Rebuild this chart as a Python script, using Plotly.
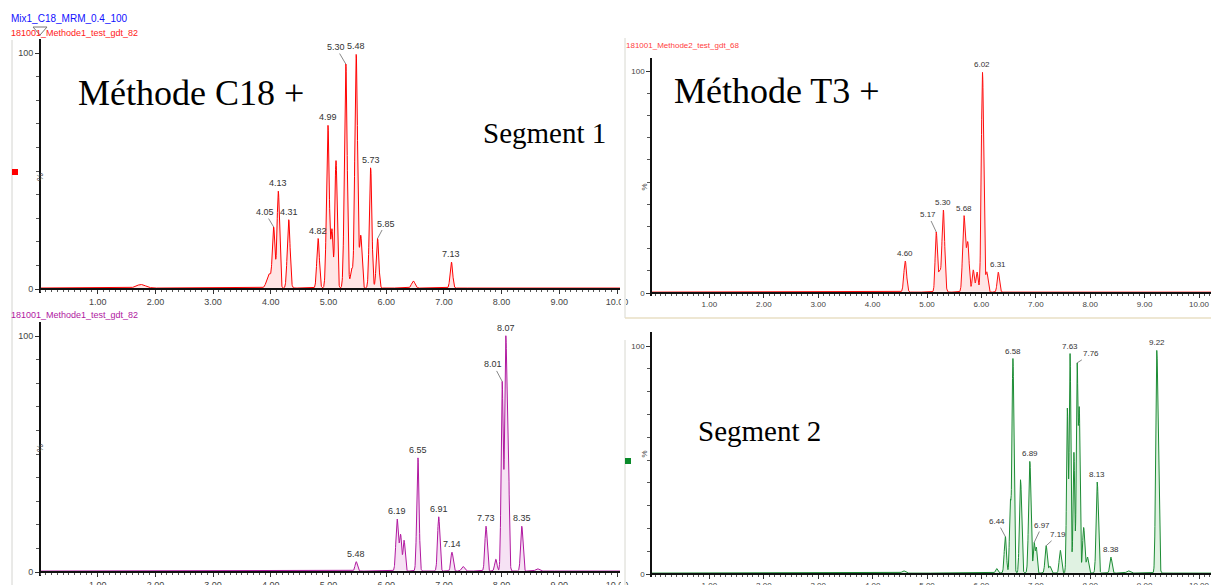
import numpy as np
import plotly.graph_objects as go

W, H = 1211, 585

# ---- data (retention time in min, relative height in %) ----
# top left : C18 method, segment 1
tl_rt = [1.75, 3.97, 4.05, 4.13, 4.31, 4.82, 4.99, 5.06, 5.13, 5.30, 5.40, 5.48, 5.56, 5.73, 5.85, 6.47, 7.13]
tl_height = [1.5, 6, 25, 41, 29, 21, 69, 24, 54, 95, 8, 99, 22, 51, 21, 3, 11]
tl_width = [0.08, 0.04, 0.022, 0.022, 0.024, 0.022, 0.024, 0.018, 0.02, 0.024, 0.02, 0.024, 0.02, 0.022, 0.022, 0.03, 0.022]
tl_labels = [4.05, 4.13, 4.31, 4.82, 4.99, 5.30, 5.48, 5.73, 5.85, 7.13]

# top right : T3 method, segment 1
tr_rt = [4.60, 5.17, 5.23, 5.30, 5.68, 5.75, 5.85, 5.92, 6.02, 6.10, 6.31]
tr_height = [14, 27, 9, 37, 34, 22, 10, 9, 99, 9, 9]
tr_width = [0.025, 0.02, 0.02, 0.025, 0.025, 0.025, 0.02, 0.02, 0.022, 0.02, 0.02]
tr_labels = [4.60, 5.17, 5.30, 5.68, 6.02, 6.31]

# bottom left : C18 method, segment 2
bl_rt = [5.48, 6.19, 6.25, 6.31, 6.55, 6.91, 7.14, 7.33, 7.73, 7.90, 8.01, 8.07, 8.11, 8.35, 8.62]
bl_height = [4, 22, 15, 13, 48, 23, 8, 2, 19, 5, 80, 93, 65, 19, 1]
bl_width = [0.02, 0.022, 0.018, 0.018, 0.02, 0.02, 0.02, 0.025, 0.02, 0.02, 0.018, 0.018, 0.018, 0.02, 0.03]
bl_labels = [5.48, 6.19, 6.55, 6.91, 7.14, 7.73, 8.01, 8.07, 8.35]

# bottom right : T3 method, segment 2
br_rt = [4.57, 6.28, 6.44, 6.53, 6.58, 6.72, 6.89, 6.97, 7.01, 7.19, 7.26, 7.45, 7.58, 7.63, 7.70,
         7.76, 7.80, 7.88, 7.95, 8.13, 8.38, 8.70, 9.22, 9.25]
br_height = [1, 2, 16, 30, 94, 41, 49, 13, 11, 12, 3, 10, 72, 96, 53, 90, 70, 20, 7, 40, 7, 1, 85, 42]
br_width = [0.03, 0.02, 0.02, 0.015, 0.018, 0.02, 0.022, 0.015, 0.015, 0.02, 0.02, 0.02, 0.015, 0.015,
            0.015, 0.015, 0.015, 0.02, 0.02, 0.02, 0.02, 0.03, 0.018, 0.018]
br_labels = [6.44, 6.58, 6.89, 6.97, 7.19, 7.63, 7.76, 8.13, 8.38, 9.22]

x_ticks = [1, 2, 3, 4, 5, 6, 7, 8, 9, 10]
x_ticktext = ["1.00", "2.00", "3.00", "4.00", "5.00", "6.00", "7.00", "8.00", "9.00", "10.00"]

t = np.linspace(-0.1, 10.4, 4000)


def chrom(rt, h, w):
    y = np.full_like(t, 0.4)
    for a, b, c in zip(rt, h, w):
        y += b * np.exp(-0.5 * ((t - a) / c) ** 2)
    return y


def fx(p):
    return p / W


def fy(p):
    return 1 - p / H


# panel geometry in pixels: y-axis x, time-0 x, px per min, right edge, y of 0 %, y of 100 %
panels = [
    dict(ax=40, t0=40, ppm=57.7, right=620, y0=289, y100=53, rt=tl_rt, h=tl_height, w=tl_width,
         labels=tl_labels, line="#ff0000", fill="rgba(255,150,150,0.25)", fs=9, ylw=2),
    dict(ax=651, t0=655, ppm=54.4, right=1211, y0=293, y100=71, rt=tr_rt, h=tr_height, w=tr_width,
         labels=tr_labels, line="#ff1010", fill="rgba(255,150,150,0.25)", fs=8, ylw=1.5),
    dict(ax=40, t0=40, ppm=57.7, right=620, y0=572, y100=336, rt=bl_rt, h=bl_height, w=bl_width,
         labels=bl_labels, line="#b0189f", fill="rgba(220,140,210,0.25)", fs=9, ylw=2),
    dict(ax=651, t0=655, ppm=54.4, right=1211, y0=574, y100=346, rt=br_rt, h=br_height, w=br_width,
         labels=br_labels, line="#1c8c34", fill="rgba(130,205,140,0.25)", fs=8, ylw=1.5),
]

# labels with a small leader line: (panel, time) -> pixel offset of text
leaders = {
    (0, 4.05): (-9, -10), (0, 5.30): (-10, -12), (0, 5.85): (8, -10),
    (1, 5.17): (-8, -12),
    (2, 8.01): (-9, -12),
    (3, 6.44): (-8, -10), (3, 6.97): (8, -12), (3, 7.19): (12, -6), (3, 7.76): (14, -4),
}

fig = go.Figure()
annotations = []
layout = {}

for i, p in enumerate(panels):
    n = "" if i == 0 else str(i + 1)
    ppp = (p["y0"] - p["y100"]) / 100
    y = chrom(p["rt"], p["h"], p["w"])
    fig.add_trace(go.Scatter(x=t, y=y, mode="lines", xaxis="x" + n, yaxis="y" + n,
                             line=dict(color=p["line"], width=1), fill="tozeroy",
                             fillcolor=p["fill"], hoverinfo="skip", showlegend=False))

    xr = [(p["ax"] - p["t0"]) / p["ppm"], (p["right"] - p["t0"]) / p["ppm"]]
    layout["xaxis" + n] = dict(
        domain=[fx(p["ax"]), fx(p["right"])], range=xr, anchor="free", position=fy(p["y0"]),
        automargin=False,
        showline=True, linecolor="#111", linewidth=1.5, showgrid=False, zeroline=False,
        tickvals=x_ticks, ticktext=x_ticktext, ticks="outside", ticklen=4, tickcolor="#333",
        minor=dict(tickmode="linear", tick0=0, dtick=0.1, ticks="outside", ticklen=2, tickcolor="#555"),
        tickfont=dict(family="Arial, Liberation Sans", size=p["fs"], color="#444"),
    )
    layout["yaxis" + n] = dict(
        domain=[fy(p["y0"] + 1.5 * ppp), fy(p["y100"] - 6 * ppp)], range=[-1.5, 106],
        anchor="free", position=fx(p["ax"]), automargin=False,
        showline=True, linecolor="#111", linewidth=p["ylw"], showgrid=False, zeroline=False,
        tickvals=[0, 100], ticktext=["0", "100"], ticks="outside", ticklen=4, tickcolor="#333",
        minor=dict(tickmode="linear", tick0=0, dtick=10, ticks="outside", ticklen=3, tickcolor="#555"),
        tickfont=dict(family="Arial, Liberation Sans", size=p["fs"], color="#444"),
    )
    # "%" on the intensity axis
    annotations.append(dict(x=fx(p["ax"] - 7), y=fy((p["y0"] + p["y100"]) / 2), xref="paper", yref="paper",
                            text="%", textangle=-90, showarrow=False,
                            font=dict(family="Arial", size=p["fs"], color="#444")))
    # peak labels
    for lt in p["labels"]:
        m = np.abs(t - lt) < 0.03
        top = float(y[m].max())
        lab = f"{lt:.2f}"
        if (i, lt) in leaders:
            dx, dy = leaders[(i, lt)]
            annotations.append(dict(x=lt, y=top, xref="x" + n, yref="y" + n, text=lab, showarrow=True,
                                    ax=dx, ay=dy - 5, arrowhead=0, arrowwidth=0.7, arrowcolor="#555",
                                    standoff=0, font=dict(family="Arial", size=p["fs"], color="#333")))
        else:
            annotations.append(dict(x=lt, y=top, xref="x" + n, yref="y" + n, text=lab, showarrow=False,
                                    yanchor="bottom", yshift=1,
                                    font=dict(family="Arial", size=p["fs"], color="#333")))

# header texts
def txt(x, y, s, size, color, family="Arial, Liberation Sans", anchor="left"):
    annotations.append(dict(x=fx(x), y=fy(y), xref="paper", yref="paper", text=s, showarrow=False,
                            xanchor=anchor, yanchor="middle", font=dict(family=family, size=size, color=color)))

txt(9, 18, "Mix1_C18_MRM_0.4_100", 10, "#1010ff")
txt(9, 33, "181001_Methode1_test_gdt_82", 9, "#ff2020")
txt(624, 46, "181001_Methode2_test_gdt_68", 8, "#ff4040")
txt(9, 315, "181001_Methode1_test_gdt_82", 9, "#b0189f")

serif = "Liberation Serif, Times New Roman, serif"
txt(191, 93, "Méthode C18 +", 36, "#000", serif, "center")
txt(777, 91, "Méthode T3 +", 36, "#000", serif, "center")
txt(544, 133, "Segment 1", 29, "#000", serif, "center")
txt(759, 431, "Segment 2", 29, "#000", serif, "center")

shapes = [
    # cover the clipped "10.00" of the left panels
    dict(type="rect", xref="paper", yref="paper", x0=fx(621), x1=fx(626), y0=0, y1=1,
         fillcolor="white", line=dict(width=0), layer="above"),
    # picture borders
    dict(type="line", xref="paper", yref="paper", x0=fx(12), x1=fx(12), y0=fy(40), y1=0,
         line=dict(color="#d4d4d0", width=1)),
    dict(type="line", xref="paper", yref="paper", x0=fx(625), x1=fx(625), y0=fy(38), y1=fy(318),
         line=dict(color="#d8d8d0", width=1)),
    dict(type="line", xref="paper", yref="paper", x0=fx(625), x1=1, y0=fy(318), y1=fy(318),
         line=dict(color="#e8dfc4", width=1.5)),
    dict(type="line", xref="paper", yref="paper", x0=fx(625), x1=fx(625), y0=fy(340), y1=0,
         line=dict(color="#d8d8d0", width=1)),
    # trace colour markers
    dict(type="rect", xref="paper", yref="paper", x0=fx(12), x1=fx(18), y0=fy(175), y1=fy(169),
         fillcolor="#ff0000", line=dict(width=0)),
    dict(type="rect", xref="paper", yref="paper", x0=fx(625), x1=fx(631), y0=fy(464), y1=fy(458),
         fillcolor="#0a8a2a", line=dict(width=0)),
    # cursor triangle at the top of the first axis
    dict(type="path", xref="paper", yref="paper",
         path=f"M {fx(33)} {fy(27)} L {fx(47)} {fy(27)} L {fx(40)} {fy(35)} Z",
         line=dict(color="#777", width=1), fillcolor="rgba(0,0,0,0)"),
]

fig.update_layout(
    width=W, height=H, margin=dict(l=0, r=0, t=0, b=0, autoexpand=False),
    paper_bgcolor="white", plot_bgcolor="white",
    annotations=annotations, shapes=shapes, showlegend=False,
    **layout,
)

# the page body has a default 8px margin; remove it so the figure sits at the window corner
fig.write_html("out.html", config={"displayModeBar": False},
               post_script="document.body.style.margin='0';document.body.style.overflow='hidden';")
